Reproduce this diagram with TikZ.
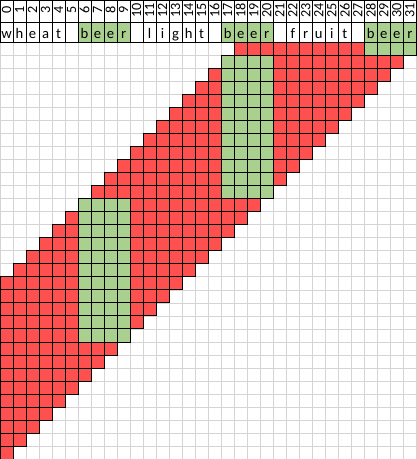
\documentclass[tikz,border=0pt]{standalone}
\usepackage{fontspec}
\setmainfont{Carlito}
\usetikzlibrary{positioning}
\definecolor{xlred}{HTML}{FF5050}
\definecolor{xlgreen}{HTML}{A9D08E}
\definecolor{xlgrid}{HTML}{D4D4D4}

\begin{document}
\begin{tikzpicture}[x=0.5cm, y=-0.5cm,
    redcell/.style={fill=xlred, draw=black, line width=0.9pt},
    greencell/.style={fill=xlgreen, draw=black, line width=0.9pt},
    hdr/.style={draw=black, line width=0.9pt},
    txt/.style={font=\fontsize{16}{18}\selectfont, inner sep=0pt}]
  % Rows: indices 0..1.74, letters 1.74..3.28, matrix rows from 3.28 (one unit each)
  \useasboundingbox (0,0) rectangle (32,35.28);

  % Light grid behind the matrix
  \foreach \i in {0,...,32} {
    \draw[xlgrid, line width=0.8pt] (\i,3.28) -- (\i,35.28);
    \draw[xlgrid, line width=0.8pt] (0,3.28+\i) -- (32,3.28+\i);
  }

  % Band: row r covers columns 18-r .. 31-r
  \foreach \r in {0,...,31} {
    \pgfmathtruncatemacro\lo{max(0,18-\r)}
    \pgfmathtruncatemacro\hi{31-\r}
    \foreach \c in {\lo,...,\hi}
      \draw[redcell] (\c,3.28+\r) rectangle ++(1,1);
  }

  % "beer" blocks lying wholly inside a row
  \foreach \s/\ra/\rb in {6/12/22, 17/1/11, 28/0/0} {
    \foreach \r in {\ra,...,\rb}
      \foreach \c in {0,...,3}
        \draw[greencell] (\s+\c,3.28+\r) rectangle ++(1,1);
  }

  % Header: indices
  \foreach \j in {0,...,31} {
    \draw[hdr] (\j,0) rectangle (\j+1,1.74);
    \node[txt, font=\fontsize{15.5}{18}\selectfont, rotate=90] (num\j) at (\j+0.5,0.8) {\j};
  }

  % Header: letters
  \foreach \s in {6,17,28}
    \fill[xlgreen] (\s,1.74) rectangle (\s+4,3.28);
  \foreach \ch [count=\j from 0] in {w,h,e,a,t,{},b,e,e,r,{},l,i,g,h,t,{},b,e,e,r,{},f,r,u,i,t,{},b,e,e,r} {
    \draw[hdr] (\j,1.74) rectangle (\j+1,3.28);
    \node[txt, anchor=base] (chr\j) at (\j+0.5,2.95) {\ch};
  }
\end{tikzpicture}
\end{document}
